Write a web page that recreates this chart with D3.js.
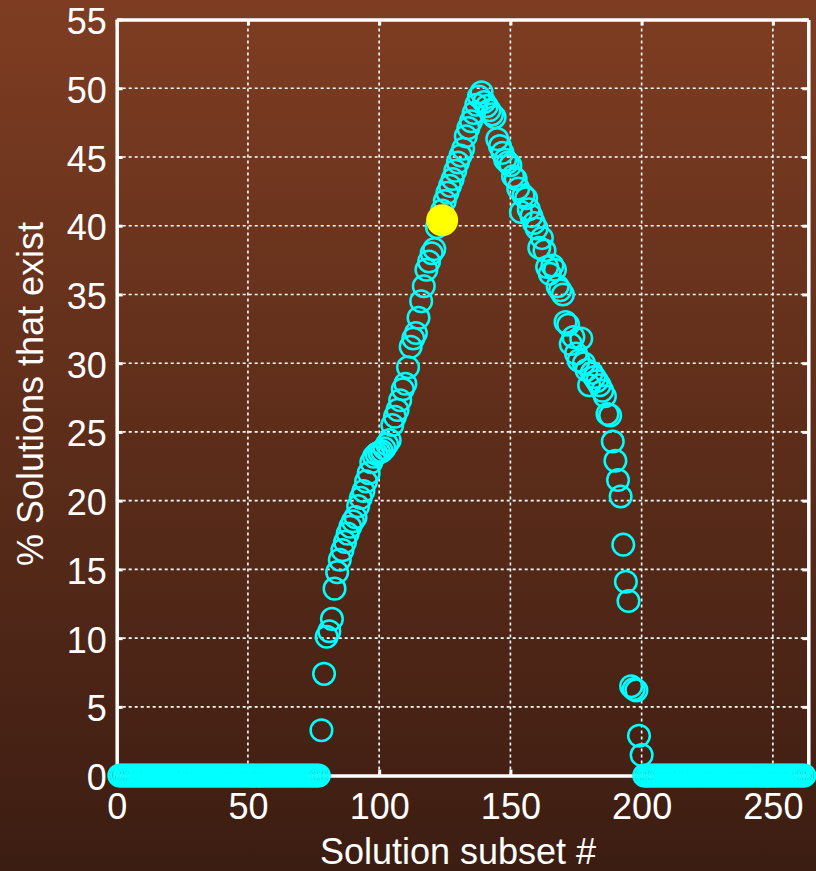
<!DOCTYPE html>
<html><head><meta charset="utf-8">
<script src="https://cdn.jsdelivr.net/npm/d3@7"></script>
<style>body{margin:0;background:#000}svg{display:block}</style>
</head><body>
<svg id="c" width="816" height="871"></svg>
<script>
// Solution subset ids 1..77 -> 0 %
const leftZeroValues = [0,0,0,0,0,0,0,0,0,0, 0,0,0,0,0,0,0,0,0,0, 0,0,0,0,0,0,0,0,0,0, 0,0,0,0,0,0,0,0,0,0, 0,0,0,0,0,0,0,0,0,0, 0,0,0,0,0,0,0,0,0,0, 0,0,0,0,0,0,0,0,0,0, 0,0,0,0,0,0,0];
// subsets 78..139
const risingValues = [3.3, 7.4, 10.1, 10.5, 11.4, 13.6, 14.8, 15.7, 16.4, 17.0, 17.6, 18.1, 18.5, 18.8, 19.6, 20.2, 20.7, 21.4, 22.0, 22.8, 23.2, 23.4, 23.5, 23.6, 23.8, 24.1, 24.4, 25.5, 26.1, 26.6, 27.3, 28.1, 28.5, 29.7, 31.2, 31.8, 32.2, 33.3, 34.5, 35.6, 36.8, 37.4, 38.0, 38.3, 39.9, 40.4, 41.1, 41.8, 42.4, 42.9, 43.4, 44.0, 44.6, 45.1, 45.6, 46.5, 47.1, 47.6, 48.2, 48.8, 49.4, 49.7];
// subsets 140..200
const fallingValues = [49.0, 48.7, 48.4, 48.1, 47.9, 46.3, 45.8, 45.3, 44.8, 44.6, 44.4, 43.6, 43.4, 42.7, 41.0, 42.2, 42.0, 41.2, 40.7, 40.2, 39.8, 38.4, 39.1, 38.2, 37.0, 36.5, 37.1, 36.8, 35.6, 35.3, 35.0, 33.0, 32.8, 31.4, 31.9, 30.7, 30.2, 31.8, 30.0, 29.5, 28.4, 29.3, 29.0, 28.7, 28.4, 28.0, 27.6, 26.3, 26.2, 24.3, 22.9, 21.5, 20.3, 16.8, 14.1, 12.7, 6.5, 6.3, 6.2, 2.9, 1.5];
// subsets 201..262
const rightZeroValues = [0,0,0,0,0,0,0,0,0,0, 0,0,0,0,0,0,0,0,0,0, 0,0,0,0,0,0,0,0,0,0, 0,0,0,0,0,0,0,0,0,0, 0,0,0,0,0,0,0,0,0,0, 0,0,0,0,0,0,0,0,0,0, 0,0];
const highlightX = [124];
const highlightY = [40.4];
const xTicks = [0, 50, 100, 150, 200, 250];
const yTicks = [0, 5, 10, 15, 20, 25, 30, 35, 40, 45, 50, 55];
const xLabel = "Solution subset #";
const yLabel = "% Solutions that exist";

const allValues = leftZeroValues.concat(risingValues, fallingValues, rightZeroValues);
const points = allValues.map((v, i) => ({x: i + 1, y: v}));

const svg = d3.select("#c");
const W = 816, H = 871;
const L = 116.7, R = 808.3, T = 19.5, B = 775.6;
const x = d3.scaleLinear().domain([0, 263.5]).range([L, R]);
const y = d3.scaleLinear().domain([0, 55]).range([B, T]);
const font = "'Liberation Sans', Arial, Helvetica, sans-serif";

const defs = svg.append("defs");
const g = defs.append("linearGradient").attr("id", "bg").attr("x1", 0).attr("y1", 0).attr("x2", 0).attr("y2", 1);
g.append("stop").attr("offset", "0%").attr("stop-color", "#7e3d22");
g.append("stop").attr("offset", "100%").attr("stop-color", "#3c1d12");
svg.append("rect").attr("width", W).attr("height", H).attr("fill", "url(#bg)");

// grid
const grid = svg.append("g").attr("stroke", "#fff").attr("stroke-width", 1.6).attr("stroke-dasharray", "3,3");
grid.selectAll(".gx").data(xTicks.filter(t => t > 0)).join("line")
  .attr("x1", d => x(d)).attr("x2", d => x(d)).attr("y1", B).attr("y2", T);
grid.selectAll(".gy").data(yTicks.filter(t => t > 0 && t < 55)).join("line")
  .attr("y1", d => y(d)).attr("y2", d => y(d)).attr("x1", L).attr("x2", R);

// axes
function styleAxis(sel) {
  sel.select(".domain").attr("stroke", "#fff").attr("stroke-width", 3.5);
  sel.selectAll(".tick line").attr("stroke", "#fff").attr("stroke-width", 3);
  sel.selectAll(".tick text").attr("fill", "#fff").style("font-family", font).style("font-size", "36px");
}
svg.append("g").attr("transform", `translate(0,${B})`)
  .call(d3.axisBottom(x).tickValues(xTicks).tickSize(-6).tickPadding(18).tickSizeOuter(0))
  .call(styleAxis);
svg.append("g").attr("transform", `translate(0,${T})`)
  .call(d3.axisTop(x).tickValues(xTicks).tickSize(-6).tickFormat("").tickSizeOuter(0))
  .call(styleAxis);
svg.append("g").attr("transform", `translate(${L},0)`)
  .call(d3.axisLeft(y).tickValues(yTicks).tickSize(-6).tickPadding(10).tickSizeOuter(0))
  .call(styleAxis)
  .call(s => s.selectAll(".tick text").attr("dy", "0.39em"));
svg.append("g").attr("transform", `translate(${R},0)`)
  .call(d3.axisRight(y).tickValues(yTicks).tickSize(-6).tickFormat("").tickSizeOuter(0))
  .call(styleAxis);

// points
svg.append("g").selectAll("circle").data(points).join("circle")
  .attr("cx", d => x(d.x)).attr("cy", d => y(d.y)).attr("r", 10.8)
  .attr("fill", "none").attr("stroke", "#00ffff").attr("stroke-width", 2.5);

svg.append("g").selectAll("circle").data(highlightX.map((v, i) => ({x: v, y: highlightY[i]}))).join("circle")
  .attr("cx", d => x(d.x)).attr("cy", d => y(d.y)).attr("r", 16)
  .attr("fill", "#ffff00");

// labels
svg.append("text").attr("x", 458).attr("y", 864).attr("text-anchor", "middle")
  .attr("fill", "#fff").style("font-family", font).style("font-size", "36px").text(xLabel);
svg.append("text").attr("transform", "translate(43,394) rotate(-90)").attr("text-anchor", "middle")
  .attr("fill", "#fff").style("font-family", font).style("font-size", "36px").text(yLabel);
</script>
</body></html>
